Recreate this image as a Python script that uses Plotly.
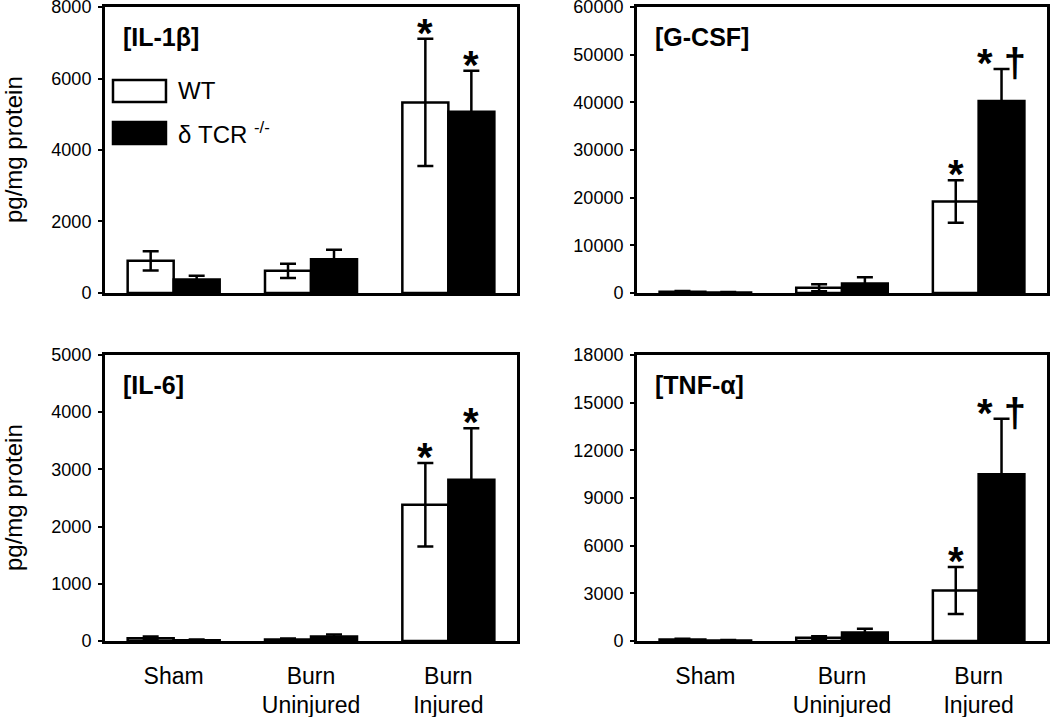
import plotly.graph_objects as go

# ---------------- data ----------------
categories = ["Sham", "Burn<br>Uninjured", "Burn<br>Injured"]
panel_titles = ["[IL-1β]", "[G-CSF]", "[IL-6]", "[TNF-α]"]
series_names = ["WT", "δ TCR <sup>-/-</sup>"]

il1b_wt = [900, 620, 5330]
il1b_wt_err = [270, 200, 1780]
il1b_ko = [380, 940, 5070]
il1b_ko_err = [100, 270, 1150]

gcsf_wt = [250, 1100, 19200]
gcsf_wt_err = [150, 750, 4450]
gcsf_ko = [100, 2000, 40300]
gcsf_ko_err = [80, 1300, 6700]

il6_wt = [50, 25, 2380]
il6_wt_err = [30, 20, 730]
il6_ko = [15, 80, 2820]
il6_ko_err = [10, 35, 900]

tnf_wt = [100, 200, 3180]
tnf_wt_err = [40, 100, 1480]
tnf_ko = [30, 540, 10500]
tnf_ko_err = [40, 230, 3480]

sig_wt = [["", "", "*"], ["", "", "*"], ["", "", "*"], ["", "", "*"]]
sig_ko = [["", "", "*"], ["", "", "* †"], ["", "", "*"], ["", "", "* †"]]

y_max = [8000, 60000, 5000, 18000]
y_dtick = [2000, 10000, 1000, 3000]

wt_vals = [il1b_wt, gcsf_wt, il6_wt, tnf_wt]
wt_errs = [il1b_wt_err, gcsf_wt_err, il6_wt_err, tnf_wt_err]
ko_vals = [il1b_ko, gcsf_ko, il6_ko, tnf_ko]
ko_errs = [il1b_ko_err, gcsf_ko_err, il6_ko_err, tnf_ko_err]

# ---------------- layout geometry ----------------
x_domains = [[0.1, 0.4924], [0.6067, 0.9971], [0.1, 0.4924], [0.6067, 0.9971]]
y_domains = [[0.5914, 0.9902], [0.5914, 0.9902], [0.106, 0.5049], [0.106, 0.5049]]

BARGAP = 0.33
half_off = (1 - BARGAP) / 4  # offset of each bar center from category center

FAM = "Liberation Sans, Arial, sans-serif"
TICK_FONT = dict(family=FAM, size=18, color="black")
LABEL_FONT = dict(family=FAM, size=23, color="black")
TITLE_FONT = dict(family=FAM, size=25, color="black")

fig = go.Figure()
layout = dict(
    width=1050, height=717,
    margin=dict(l=0, r=0, t=0, b=0, autoexpand=False),
    paper_bgcolor="white", plot_bgcolor="white",
    barmode="group", bargap=BARGAP, bargroupgap=0,
    showlegend=False,
)
annotations = []
shapes = []

for i in range(4):
    sfx = "" if i == 0 else str(i + 1)
    xa, ya = "x" + sfx, "y" + sfx
    fig.add_trace(go.Bar(
        x=categories, y=wt_vals[i], name="WT", xaxis=xa, yaxis=ya,
        marker=dict(color="white", line=dict(color="black", width=2.5)),
        error_y=dict(type="data", array=wt_errs[i], visible=True,
                     color="black", thickness=2.5, width=8),
    ))
    fig.add_trace(go.Bar(
        x=categories, y=ko_vals[i], name="δ TCR -/-", xaxis=xa, yaxis=ya,
        marker=dict(color="black", line=dict(color="black", width=2.5)),
        error_y=dict(type="data", array=ko_errs[i], visible=True,
                     color="black", thickness=2.5, width=8),
    ))
    bottom = i >= 2
    layout["xaxis" + sfx] = dict(
        domain=x_domains[i], anchor=ya, automargin=False,
        type="category", categoryorder="array", categoryarray=categories,
        range=[-0.5, 2.5],
        showline=True, linewidth=3, linecolor="black", mirror=True,
        ticks="", showgrid=False, zeroline=False,
        showticklabels=bottom, tickfont=LABEL_FONT, ticklabelstandoff=12,
        ticklabeloverflow="allow",
    )
    layout["yaxis" + sfx] = dict(
        domain=y_domains[i], anchor=xa, automargin=False,
        range=[0, y_max[i]], dtick=y_dtick[i], tick0=0, tickformat="d",
        showline=True, linewidth=3, linecolor="black", mirror=True,
        ticks="outside", ticklen=4, tickwidth=2, tickcolor="black",
        ticklabelstandoff=3, ticklabeloverflow="allow",
        showgrid=False, zeroline=False, tickfont=TICK_FONT,
    )
    # panel title
    annotations.append(dict(
        text="<b>" + panel_titles[i] + "</b>", xref=xa + " domain", yref=ya + " domain",
        x=0.04, y=0.895, xanchor="left", yanchor="middle", showarrow=False,
        font=TITLE_FONT,
    ))
    # significance markers
    for j in range(3):
        for vals, errs, sig, off in ((wt_vals[i], wt_errs[i], sig_wt[i], -half_off),
                                     (ko_vals[i], ko_errs[i], sig_ko[i], half_off)):
            if sig[j]:
                annotations.append(dict(
                    text="<b>" + sig[j] + "</b>", xref=xa, yref=ya,
                    x=j + off, y=vals[j] + errs[j], xanchor="center", yanchor="bottom",
                    yshift=-18, showarrow=False,
                    font=dict(family=FAM, size=40, color="black"),
                ))

# y-axis titles on left panels
for yd in (y_domains[0], y_domains[2]):
    annotations.append(dict(
        text="pg/mg protein", xref="paper", yref="paper",
        x=14 / 1050, y=(yd[0] + yd[1]) / 2, textangle=-90,
        xanchor="center", yanchor="middle", showarrow=False,
        font=dict(family=FAM, size=24, color="black"),
    ))

# legend (inside first panel)
leg_fills = ["white", "black"]
leg_y = [(0.668, 0.745), (0.521, 0.598)]
for k in range(2):
    shapes.append(dict(
        type="rect", xref="x domain", yref="y domain",
        x0=0.0194, x1=0.148, y0=leg_y[k][0], y1=leg_y[k][1],
        fillcolor=leg_fills[k], line=dict(color="black", width=2.5),
    ))
    annotations.append(dict(
        text=series_names[k], xref="x domain", yref="y domain",
        x=0.172, y=(leg_y[k][0] + leg_y[k][1]) / 2, xanchor="left", yanchor="middle",
        showarrow=False, font=dict(family=FAM, size=24, color="black"),
    ))

layout["annotations"] = annotations
layout["shapes"] = shapes
fig.update_layout(**layout)
fig.write_html(
    "out.html",
    config={"displayModeBar": False},
    post_script="document.body.style.margin='0';document.body.style.overflow='hidden';",
)
